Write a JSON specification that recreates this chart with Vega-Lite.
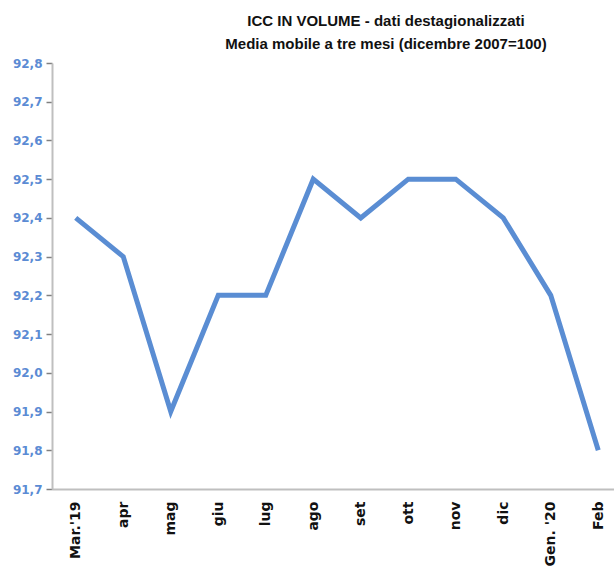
{
  "$schema": "https://vega.github.io/schema/vega-lite/v6.json",
  "width": 570,
  "height": 426,
  "autosize": {"type": "none"},
  "padding": {"left": 52, "top": 63, "right": 0, "bottom": 88},
  "background": "white",
  "title": {
    "text": ["ICC IN VOLUME - dati destagionalizzati", "Media mobile a tre mesi (dicembre 2007=100)"],
    "font": "Liberation Sans",
    "fontSize": 15,
    "fontWeight": "bold",
    "color": "#111111",
    "anchor": "middle",
    "dx": 49,
    "offset": 5,
    "lineHeight": 23
  },
  "data": {
    "values": [
      {"mese": "Mar.'19", "valore": 92.4},
      {"mese": "apr", "valore": 92.3},
      {"mese": "mag", "valore": 91.9},
      {"mese": "giu", "valore": 92.2},
      {"mese": "lug", "valore": 92.2},
      {"mese": "ago", "valore": 92.5},
      {"mese": "set", "valore": 92.4},
      {"mese": "ott", "valore": 92.5},
      {"mese": "nov", "valore": 92.5},
      {"mese": "dic", "valore": 92.4},
      {"mese": "Gen. '20", "valore": 92.2},
      {"mese": "Feb", "valore": 91.8}
    ]
  },
  "mark": {"type": "line", "color": "#5a8dd3", "strokeWidth": 5, "strokeJoin": "miter", "clip": false},
  "encoding": {
    "x": {
      "field": "mese",
      "type": "ordinal",
      "sort": null,
      "scale": {"type": "point", "padding": 0.5},
      "axis": {
        "title": null,
        "labelAngle": -90,
        "labelAlign": "right",
        "labelBaseline": "middle",
        "labelFont": "DejaVu Sans",
        "labelFontWeight": "bold",
        "labelFontSize": 14,
        "labelColor": "#111111",
        "labelPadding": 12,
        "ticks": false,
        "domainColor": "#bfbfbf",
        "domainWidth": 2,
        "grid": false
      }
    },
    "y": {
      "field": "valore",
      "type": "quantitative",
      "scale": {"domain": [91.7, 92.8], "nice": false, "zero": false},
      "axis": {
        "title": null,
        "values": [91.7, 91.8, 91.9, 92.0, 92.1, 92.2, 92.3, 92.4, 92.5, 92.6, 92.7, 92.8],
        "format": ".1f",
        "labelExpr": "replace(format(datum.value, '.1f'), '.', ',')",
        "labelFont": "DejaVu Sans",
        "labelFontWeight": "bold",
        "labelFontSize": 12,
        "labelColor": "#5b8bd4",
        "labelPadding": 4,
        "tickColor": "#808080",
        "tickSize": 6,
        "tickWidth": 1.5,
        "domainColor": "#bfbfbf",
        "domainWidth": 2,
        "grid": false
      }
    }
  },
  "config": {"view": {"stroke": null}}
}
